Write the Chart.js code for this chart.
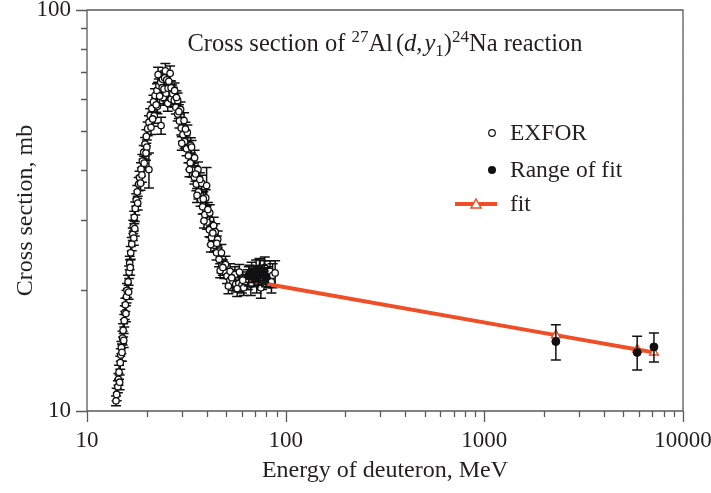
<!DOCTYPE html>
<html>
<head>
<meta charset="utf-8">
<script src="https://cdn.jsdelivr.net/npm/chart.js@4.4.1/dist/chart.umd.min.js"></script>
<style>
  html, body { margin: 0; padding: 0; background: #fff; }
  #wrap { width: 711px; height: 493px; }
</style>
</head>
<body>
<div id="wrap"><canvas id="xs"></canvas></div>
<script>
// EXFOR measurements: energy (MeV), cross section (mb), error (mb)
var exforE = [
  14.0, 14.1, 14.3, 14.4, 14.5, 14.7, 14.8, 14.9, 15.1, 15.2, 15.4, 15.5, 15.6, 15.8, 15.9, 16.1, 16.3, 16.4, 16.6, 16.8,
  17.0, 17.1, 17.3, 17.5, 17.7, 17.9, 18.2, 18.4, 18.7, 19.0, 19.3, 19.6, 19.9, 20.2, 20.5, 20.8, 21.2, 21.6, 22.0, 22.5,
  23.0, 23.5, 24.0, 24.6, 25.2, 25.8,
  15.0, 15.7, 16.5, 17.4, 18.0, 18.6, 19.4, 20.0, 20.5, 21.0, 21.8, 22.6, 23.6, 24.2, 25.0, 22.8, 24.8, 26.2, 23.2, 25.5, 26.5,
  14.6, 15.3, 16.2, 17.2, 18.9, 19.8, 21.4, 22.3, 23.9, 24.4, 25.6, 26.8,
  26.5, 27.0, 27.5, 28.0, 28.6, 29.2, 29.8, 30.4, 31.0, 31.7, 32.4, 33.1, 33.9, 34.7, 35.5, 36.4, 37.3, 38.2, 39.2, 40.2,
  41.3, 42.4, 43.6, 44.9, 46.2, 47.6, 49.1, 50.7, 52.4, 54.2, 56.1, 58.1, 60.2, 62.4,
  27.6, 28.6, 29.6, 30.8, 32.0, 33.3, 34.8, 36.2, 37.8, 40.0, 39.6, 41.5, 43.4, 44.2, 45.5, 47.5, 49.8, 52.5, 55.5, 58.5,
  30.0, 32.8, 35.8, 38.8, 42.0, 46.8, 51.5, 57.0, 61.5,
  28.2, 29.0, 31.3, 33.6, 35.2, 37.0, 38.5, 40.6, 43.0, 45.0, 48.3, 53.5,
  64.5, 66.8, 69.0, 71.5, 73.8, 76.0, 78.5, 81.0, 83.5, 86.0, 88.5, 65.8, 75.0, 60.8, 84.8
];
var exforXS = [
  10.6, 11.0, 11.5, 12.0, 12.5, 13.2, 13.8, 14.4, 15.2, 15.9, 16.8, 17.6, 18.4, 19.3, 20.0, 21.0, 22.2, 23.4, 24.8, 26.1,
  27.6, 28.8, 30.4, 32.0, 33.6, 35.2, 36.8, 38.2, 40.1, 42.0, 44.2, 46.3, 48.4, 50.6, 52.5, 54.6, 56.8, 59.0, 61.2, 63.0,
  64.8, 66.0, 67.2, 67.8, 67.0, 66.4,
  14.0, 17.5, 22.8, 28.5, 33.0, 37.0, 41.5, 45.5, 40.0, 51.0, 54.5, 57.5, 51.5, 60.5, 62.0, 69.0, 70.5, 69.5, 61.0, 58.5, 60.0,
  11.8, 15.0, 19.8, 27.0, 38.8, 44.0, 53.5, 58.0, 64.0, 63.5, 63.8, 62.5,
  64.0, 61.8, 59.5, 57.2, 55.0, 52.9, 50.8, 48.9, 47.0, 45.1, 43.3, 41.6, 39.9, 38.3, 36.8, 35.2, 33.7, 32.3, 30.9, 29.6,
  28.3, 27.1, 25.9, 24.8, 23.9, 23.0, 22.3, 21.7, 21.2, 20.9, 20.7, 20.8, 20.6, 21.0,
  63.0, 59.5, 56.5, 53.0, 49.5, 46.0, 42.8, 40.0, 37.0, 36.5, 34.0, 31.2, 29.0, 28.0, 26.8, 24.8, 23.2, 22.3, 21.9, 22.2,
  46.5, 40.0, 34.5, 29.8, 26.0, 22.4, 20.5, 20.2, 20.3,
  60.5, 55.8, 50.5, 45.5, 39.0, 37.8, 33.8, 31.8, 27.8, 26.2, 22.8, 21.5,
  21.3, 20.7, 21.8, 21.0, 22.6, 21.4, 22.8, 21.6, 22.3, 21.8, 22.1, 22.0, 20.3, 21.2, 21.0
];
var exforErr = [
  0.3, 0.4, 0.4, 0.4, 0.5, 0.5, 0.5, 0.5, 0.6, 0.6, 0.6, 0.7, 0.7, 0.7, 0.8, 0.8, 0.8, 0.9, 0.9, 1.0,
  1.0, 1.1, 1.1, 1.2, 1.2, 1.3, 1.4, 1.4, 1.5, 1.6, 1.7, 1.8, 1.9, 2.0, 2.0, 2.1, 2.2, 2.3, 2.4, 2.5,
  2.5, 2.6, 2.6, 2.7, 2.6, 2.6,
  0.7, 0.8, 1.0, 1.2, 1.3, 1.5, 1.7, 1.9, 4.0, 2.1, 2.3, 2.4, 2.5, 2.6, 2.6, 3.0, 3.0, 3.0, 2.6, 2.6, 2.6,
  0.5, 0.6, 0.8, 1.1, 1.6, 1.8, 2.2, 2.4, 2.6, 2.6, 2.7, 2.5,
  2.5, 2.4, 2.3, 2.2, 2.1, 2.1, 2.0, 1.9, 1.8, 1.8, 1.7, 1.6, 1.6, 1.5, 1.4, 1.4, 1.3, 1.3, 1.2, 1.2,
  1.1, 1.1, 1.0, 1.0, 1.0, 0.9, 0.9, 0.9, 0.9, 0.9, 0.9, 0.9, 0.9, 0.9,
  2.8, 2.6, 2.5, 2.4, 2.2, 2.0, 1.9, 1.8, 1.7, 4.0, 1.6, 1.5, 1.4, 1.3, 1.3, 1.2, 1.1, 1.0, 1.0, 1.0,
  1.8, 1.6, 1.4, 1.2, 1.1, 0.9, 0.9, 0.9, 0.9,
  2.4, 2.2, 2.0, 1.8, 1.6, 1.5, 1.4, 1.3, 1.2, 1.1, 1.0, 1.0,
  1.2, 1.3, 1.2, 1.3, 1.4, 1.3, 1.4, 1.3, 1.4, 1.5, 1.6, 1.1, 1.2, 1.0, 1.3
];

// points used for the fit
var rangeE   = [65.2, 67.4, 69.5, 71.0, 72.8, 74.4, 76.3, 78.0, 79.6, 2291, 5880, 7140];
var rangeXS  = [21.7, 22.2, 21.5, 22.4, 21.8, 22.5, 21.9, 22.3, 21.6, 14.9, 14.0, 14.45];
var rangeErr = [1.2, 1.3, 1.1, 1.4, 1.2, 1.3, 1.2, 1.4, 1.2, 1.5, 1.35, 1.2];

// fitted curve
var fitE  = [66, 2291, 5880, 7140];
var fitXS = [21.1, 15.46, 14.24, 14.0];

var xTickVals = [10, 20, 30, 40, 50, 60, 70, 80, 90, 100, 200, 300, 400, 500, 600, 700, 800, 900,
                 1000, 2000, 3000, 4000, 5000, 6000, 7000, 8000, 9000, 10000];
var yTickVals = [10, 20, 30, 40, 50, 60, 70, 80, 90, 100];
var xLabelVals = [10, 100, 1000, 10000];
var yLabelVals = [10, 100];

var SERIF = '"Liberation Serif", "DejaVu Serif", serif';
var TXT = '#231f20';
var AXIS = '#5a5a5a';
var RED = 'rgb(240,78,38)';

function pts(xs, ys) {
  return xs.map(function (x, i) { return { x: x, y: ys[i] }; });
}

var errorBars = {
  id: 'errorBars',
  beforeDatasetDraw: function (chart, args) {
    var ds = chart.data.datasets[args.index];
    if (!ds.errors) return;
    var sx = chart.scales.x, sy = chart.scales.y, ctx = chart.ctx;
    ctx.save();
    ctx.strokeStyle = '#111';
    ctx.lineWidth = 1.5;
    ds.data.forEach(function (p, i) {
      var px = sx.getPixelForValue(p.x);
      var t = sy.getPixelForValue(p.y + ds.errors[i]);
      var b = sy.getPixelForValue(p.y - ds.errors[i]);
      ctx.beginPath();
      ctx.moveTo(px, t); ctx.lineTo(px, b);
      ctx.moveTo(px - 5, t); ctx.lineTo(px + 5, t);
      ctx.moveTo(px - 5, b); ctx.lineTo(px + 5, b);
      ctx.stroke();
    });
    ctx.restore();
  }
};

// tick marks (long at decades, short in between) and the box
var frameTicks = {
  id: 'frameTicks',
  afterDraw: function (chart) {
    var ctx = chart.ctx, a = chart.chartArea;
    var sx = chart.scales.x, sy = chart.scales.y;
    ctx.save();
    ctx.strokeStyle = AXIS;
    ctx.lineWidth = 1.3;
    ctx.beginPath();
    ctx.rect(a.left, a.top, a.right - a.left, a.bottom - a.top);
    xTickVals.forEach(function (v) {
      var px = Math.round(sx.getPixelForValue(v)) + 0.5;
      var len = xLabelVals.indexOf(v) >= 0 ? 11 : 6;
      ctx.moveTo(px, a.bottom); ctx.lineTo(px, a.bottom + len);
    });
    yTickVals.forEach(function (v) {
      var py = Math.round(sy.getPixelForValue(v)) + 0.5;
      var len = yLabelVals.indexOf(v) >= 0 ? 11 : 6;
      ctx.moveTo(a.left, py); ctx.lineTo(a.left - len, py);
    });
    ctx.stroke();
    ctx.restore();
  }
};

// title with super/subscripts
var richTitle = {
  id: 'richTitle',
  afterDraw: function (chart) {
    var ctx = chart.ctx, a = chart.chartArea;
    var big = 24.5, small = 17;
    var parts = [
      { t: 'Cross section of ', s: big, dy: 0 },
      { t: '27', s: small, dy: -9 },
      { t: 'Al', s: big, dy: 0, gap: 3 },
      { t: '(', s: big, dy: 0 },
      { t: 'd', s: big, dy: 0, it: true },
      { t: ',', s: big, dy: 0, gap: 2 },
      { t: 'y', s: big, dy: 0, it: true },
      { t: '1', s: small, dy: 5 },
      { t: ')', s: big, dy: 0 },
      { t: '24', s: small, dy: -9 },
      { t: 'Na reaction', s: big, dy: 0 }
    ];
    function font(p) { return (p.it ? 'italic ' : '') + p.s + 'px ' + SERIF; }
    var total = 0;
    parts.forEach(function (p) {
      ctx.font = font(p);
      p.w = ctx.measureText(p.t).width + (p.gap || 0);
      total += p.w;
    });
    var x = (a.left + a.right) / 2 - total / 2;
    var base = a.top + 41;
    ctx.save();
    ctx.fillStyle = TXT;
    ctx.textBaseline = 'alphabetic';
    parts.forEach(function (p) {
      ctx.font = font(p);
      ctx.fillText(p.t, x, base + p.dy);
      x += p.w;
    });
    ctx.restore();
  }
};

// legend inside the plot
var innerLegend = {
  id: 'innerLegend',
  afterDraw: function (chart) {
    var ctx = chart.ctx;
    var mx = 492, tx = 510;
    var rows = [133, 170, 204];
    ctx.save();
    ctx.font = '23.5px ' + SERIF;
    ctx.fillStyle = TXT;
    ctx.textBaseline = 'middle';
    ctx.fillText('EXFOR', tx, rows[0] + 1);
    ctx.fillText('Range of fit', tx, rows[1] + 1);
    ctx.fillText('fit', tx, rows[2] + 1);
    ctx.lineWidth = 1.2;
    ctx.strokeStyle = '#111';
    ctx.fillStyle = '#fff';
    ctx.beginPath(); ctx.arc(mx, rows[0], 3.3, 0, Math.PI * 2); ctx.fill(); ctx.stroke();
    ctx.fillStyle = '#111';
    ctx.beginPath(); ctx.arc(mx, rows[1], 4, 0, Math.PI * 2); ctx.fill();
    ctx.strokeStyle = RED;
    ctx.lineWidth = 4;
    ctx.beginPath(); ctx.moveTo(455, rows[2]); ctx.lineTo(497, rows[2]); ctx.stroke();
    ctx.lineWidth = 1.5;
    ctx.fillStyle = '#fff';
    ctx.beginPath();
    ctx.moveTo(476, rows[2] - 5); ctx.lineTo(481, rows[2] + 4); ctx.lineTo(471, rows[2] + 4); ctx.closePath();
    ctx.fill(); ctx.stroke();
    ctx.restore();
  }
};

new Chart(document.getElementById('xs'), {
  type: 'scatter',
  data: {
    datasets: [
      {
        label: 'Range of fit',
        data: pts(rangeE, rangeXS),
        errors: rangeErr,
        pointRadius: 4,
        pointBackgroundColor: '#111',
        pointBorderColor: '#111',
        pointBorderWidth: 1,
        order: 0
      },
      {
        label: 'fit',
        type: 'line',
        data: pts(fitE, fitXS),
        borderColor: RED,
        borderWidth: 4,
        pointStyle: 'triangle',
        pointRadius: [0, 5, 5, 5],
        pointBackgroundColor: '#fff',
        pointBorderColor: RED,
        pointBorderWidth: 1.5,
        fill: false,
        order: 1
      },
      {
        label: 'EXFOR',
        data: pts(exforE, exforXS),
        errors: exforErr,
        pointRadius: 3.2,
        pointBackgroundColor: '#fff',
        pointBorderColor: '#111',
        pointBorderWidth: 1.3,
        order: 2
      }
    ]
  },
  options: {
    responsive: true,
    maintainAspectRatio: false,
    animation: false,
    layout: { padding: { left: 0, right: 28, top: 10, bottom: 0 } },
    plugins: {
      legend: { display: false },
      tooltip: { enabled: false }
    },
    scales: {
      x: {
        type: 'logarithmic',
        min: 10,
        max: 10000,
        afterBuildTicks: function (s) { s.ticks = xTickVals.map(function (v) { return { value: v }; }); },
        afterFit: function (s) { s.height = 82; s.paddingLeft = 0; s.paddingRight = 0; },
        grid: { display: false, drawTicks: true, tickLength: 11 },
        border: { display: false },
        ticks: {
          autoSkip: false,
          maxRotation: 0,
          padding: 5,
          color: TXT,
          font: { family: SERIF, size: 23 },
          callback: function (v) { return xLabelVals.indexOf(v) >= 0 ? String(v) : ''; }
        },
        title: {
          display: true,
          text: 'Energy of deuteron, MeV',
          color: TXT,
          font: { family: SERIF, size: 24 },
          padding: { top: 2, bottom: 8 }
        }
      },
      y: {
        type: 'logarithmic',
        min: 10,
        max: 100,
        afterBuildTicks: function (s) { s.ticks = yTickVals.map(function (v) { return { value: v }; }); },
        afterFit: function (s) { s.width = 87; s.paddingTop = 0; s.paddingBottom = 0; },
        grid: { display: false, drawTicks: true, tickLength: 11 },
        border: { display: false },
        ticks: {
          autoSkip: false,
          padding: 5,
          color: TXT,
          font: { family: SERIF, size: 23 },
          callback: function (v) { return yLabelVals.indexOf(v) >= 0 ? String(v) : ''; }
        },
        title: {
          display: true,
          text: 'Cross section, mb',
          color: TXT,
          font: { family: SERIF, size: 24 },
          padding: { top: 11, bottom: 2 }
        }
      }
    }
  },
  plugins: [errorBars, frameTicks, richTitle, innerLegend]
});
</script>
</body>
</html>
